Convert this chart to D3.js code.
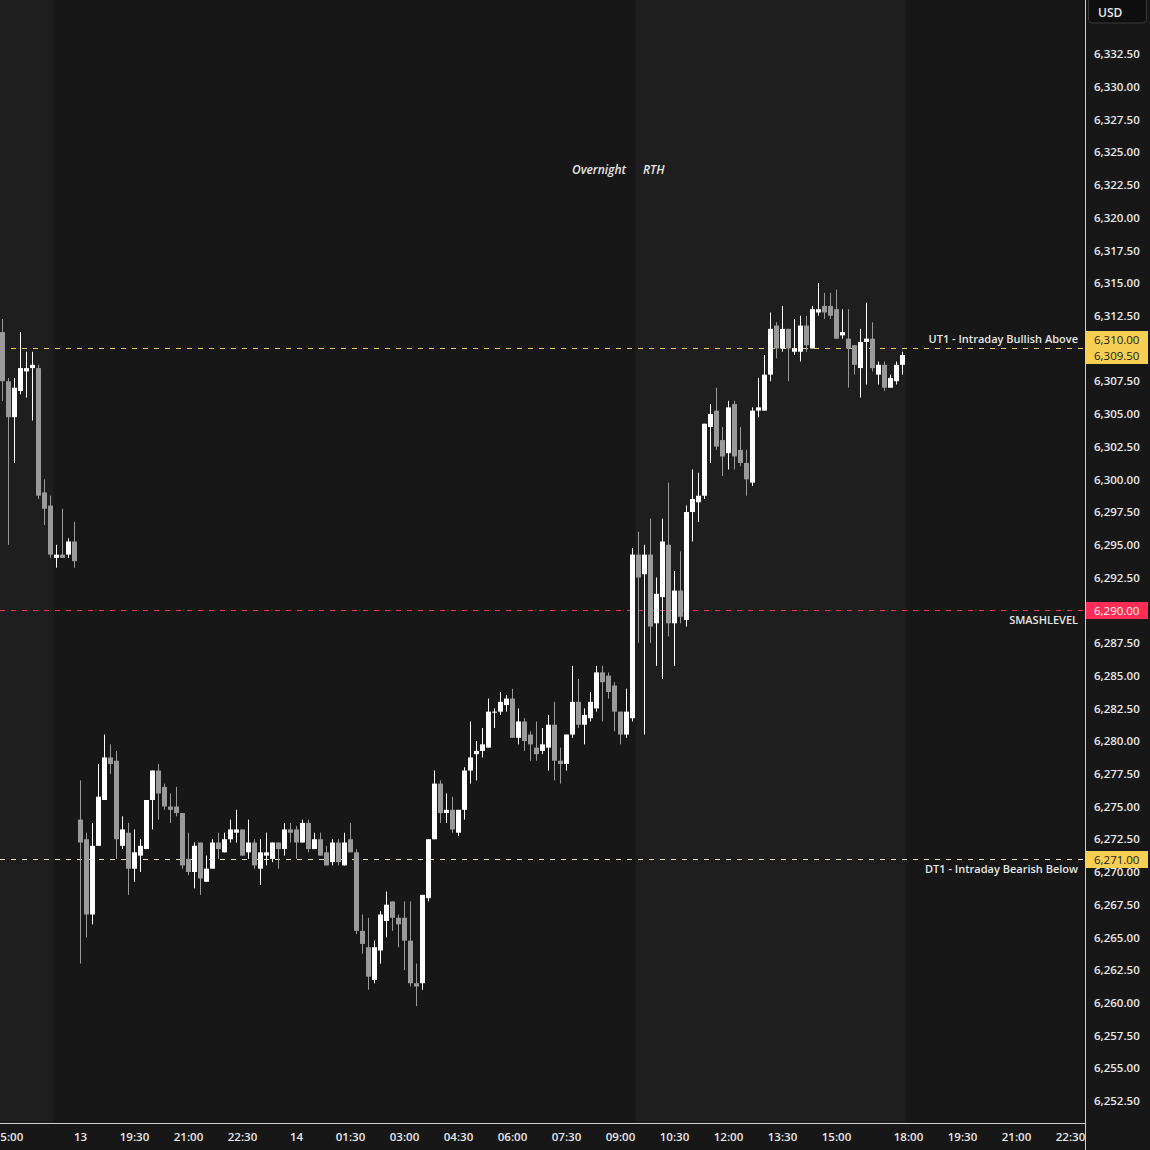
<!DOCTYPE html>
<html>
<head>
<meta charset="utf-8">
<script src="https://cdn.jsdelivr.net/npm/d3@7"></script>
<style>
  html, body { margin: 0; padding: 0; background: #171717; }
  svg { display: block; font-family: "Open Sans", sans-serif; }
</style>
</head>
<body>
<div id="chart"></div>
<script>
// 10 minute ES bars, index 0 = 14:50 of the previous session
var opens = [6311.25,6307.5,6304.75,6306.75,6308.25,6308.5,6308.5,6299,6298,6294,6294.25,6294.25,6295.25,
  6274,6272.5,6266.75,6272,6275.5,6278.75,6278.5,6272,6273,6270.25,6271.25,6271.75,6275.5,6277.75,6276.5,6275,6275,
  6274.5,6271,6270,6272.25,6269.25,6270.25,6272.25,6271.5,6272.5,6273,6273.25,6271.5,6272.25,6270.25,6271.25,6271,
  6272.25,6271.75,6273.25,6273.25,6272.25,6273.75,6271.75,6272.5,6271.5,6270.75,6272.25,6270.5,6272.5,6271.5,6265.5,
  6264.25,6261.75,6264,6266.25,6267.75,6266.5,6266.5,6264.75,6261.5,6261.5,6268,6272.5,6276.75,6274.5,6274.75,6273,
  6274.75,6277.75,6279,6279.25,6279.5,6282.25,6282.25,6282.75,6283.25,6280.25,6281.5,6280.5,6279.5,6279.25,6279.5,
  6281.25,6278.5,6278.25,6280.5,6283,6281.25,6281.75,6282.5,6285.25,6285,6284.25,6282.25,6280.5,6281.75,6294.25,
  6292.75,6294.25,6289,6291,6295,6289,6291.5,6289.25,6297.5,6298.25,6298.75,6304,6305.25,6303,6302,6305.75,6302.25,
  6301.25,6299.75,6305.25,6305.25,6308,6311.75,6310,6311.5,6309.75,6309.75,6311.75,6310,6312.75,6313.25,6313.25,
  6313,6311,6310.75,6310.25,6308.5,6310.5,6310.75,6308,6308.75,6307,6307.5,6308.75];
var highs = [6312.25,6307.75,6307.75,6311.25,6309.75,6309.75,6308.75,6300,6298.75,6295,6297.75,6295.5,6296.75,
  6277,6273,6273.75,6278.25,6280.5,6279.75,6279.25,6274.25,6273.75,6273.25,6272.5,6275.5,6277.75,6278.25,6276.75,6276,6276.5,
  6274.5,6273,6272.25,6272.25,6271.25,6272.5,6273,6273,6274,6274.75,6273.25,6274,6272.5,6272.5,6273,6272.25,
  6272.25,6273.75,6273.75,6273.5,6274,6274,6273,6273,6272,6272.5,6272.5,6273,6273.75,6271.75,6266.75,
  6266.5,6264.75,6267,6268.5,6267.75,6266.75,6267.75,6267.75,6263,6268.25,6272.5,6277.75,6277,6276,6275.75,6274.75,
  6278,6281.5,6280,6281,6283.25,6282.5,6283.75,6283.5,6284,6282.5,6281.75,6280.75,6281.5,6281,6282,
  6283,6279.5,6280.5,6285.75,6284.75,6282.5,6283.75,6285.75,6285.75,6285.25,6284.5,6282.25,6284,6294.75,6296,
  6295,6297,6292.5,6297,6299.75,6293,6294.5,6298,6300.75,6300.5,6304.25,6305.75,6307,6304,6306,6306,6304,
  6302.25,6305.5,6307.75,6309.5,6312.75,6312,6313.25,6311.5,6312.25,6312.5,6312.5,6313.25,6315,6314.25,6314.25,
  6314.5,6313,6313,6310.25,6311.5,6313.5,6312,6309,6309,6308,6309,6309.75];
var lows = [6306,6295,6301.25,6306.5,6306.25,6304.5,6298.5,6296.5,6294,6293.25,6294,6294,6293.25,
  6263,6265,6266,6272,6275.5,6277.5,6271,6271.75,6268.25,6269.25,6270,6271.75,6273.25,6274,6274.75,6273.75,6274.25,
  6270.25,6269.75,6268.75,6268.25,6269.25,6270.25,6271,6271.5,6272.25,6272.25,6271.25,6271,6270.25,6269,6270.5,6270.75,
  6270.25,6271.25,6272.25,6271,6272.25,6271.5,6271.75,6271.25,6270.5,6270.5,6270.5,6270.5,6271.5,6265.25,6263.75,
  6261,6261.5,6263,6265,6265.5,6264.25,6262.5,6261.25,6259.75,6261,6267.75,6272.5,6273.75,6273.75,6273,6272.75,
  6274,6276.75,6277,6278.75,6279.5,6281,6282,6282.25,6280.25,6279.75,6279.25,6278.5,6278.5,6279,6277.75,
  6277,6276.75,6277.75,6280.25,6281,6279.75,6281.5,6282.25,6281.5,6283.25,6280.75,6279.75,6280.25,6281.5,6287.5,
  6280.5,6287.5,6285.75,6284.75,6288,6285.75,6289,6288.75,6295.25,6296.75,6298.5,6301.25,6302.25,6300.25,6300.75,6300.75,6301,
  6298.75,6299.5,6304.75,6305.25,6307.5,6309.25,6309.75,6307.5,6309.5,6309,6309.75,6310,6312.5,6312.25,6312.25,
  6310.75,6310.75,6307,6308,6306.25,6307.25,6308.25,6307.25,6306.75,6307,6307.25,6308];
var closes = [6307.5,6304.75,6307,6308.5,6308.5,6308.75,6298.75,6297.75,6294.25,6294.25,6294,6295.25,6293.75,
  6272.25,6266.75,6272,6275.75,6278.75,6278.25,6272.5,6273.25,6270.25,6271.5,6272,6275.5,6277.75,6276,6275,6274.75,6274.5,
  6270.5,6270,6272,6269.5,6270.25,6272.25,6271.75,6272.5,6273.25,6273.25,6271.25,6272.25,6270.5,6271.5,6271.5,6272.25,
  6271.75,6273.25,6273,6272.25,6273.75,6271.75,6272.5,6271.25,6270.5,6272.25,6270.75,6272.25,6271.5,6265.5,6264.5,
  6262,6264.25,6266.75,6267.5,6266.5,6266,6264.75,6261.5,6261.25,6268.25,6272.5,6276.75,6274.5,6274.75,6273.25,6274.75,
  6277.75,6278.75,6279.25,6279.75,6282.25,6282.25,6283,6283.25,6280.25,6281.5,6280,6279.75,6279,6279.75,6281.25,
  6278.5,6278.25,6280.5,6283,6281.25,6282,6283,6285.25,6284.5,6283.75,6282.25,6280.5,6282.25,6294.25,6292.5,
  6294.25,6288.75,6291.25,6295.25,6289,6291.5,6289.5,6297.5,6298.5,6298.75,6304.25,6305,6302.5,6301.75,6305.5,6301.75,6301.25,
  6300,6305.25,6305.5,6308,6311.5,6310,6311.5,6310,6310,6311.75,6310.25,6313,6313,6312.75,6312.5,
  6310.75,6311.25,6310,6308.75,6310.5,6310.75,6308.5,6308.75,6307,6307.75,6308.75,6309.5];

// time axis labels (bar index -> text)
var timeTickIdx = [1,13,22,31,40,49,58,67,76,85,94,103,112,121,130,139,151,160,169,178];
var timeTickText = ["15:00","13","19:30","21:00","22:30","14","01:30","03:00","04:30","06:00","07:30","09:00",
  "10:30","12:00","13:30","15:00","18:00","19:30","21:00","22:30"];

// shaded sessions (bar index ranges)
var sessionStart = [-2, 105.5];
var sessionEnd = [8.5, 150.5];

// price levels
var levelPrice = [6310, 6290, 6271];
var levelName = ["UT1 - Intraday Bullish Above", "SMASHLEVEL", "DT1 - Intraday Bearish Below"];
var lastPrice = 6309.5;

var W = 1150, H = 1150,
    plotR = 1085, plotB = 1123;

var svg = d3.select("#chart").append("svg")
  .attr("width", W)
  .attr("height", H);

svg.append("rect").attr("width", W).attr("height", H).attr("fill", "#171717");

var x = d3.scaleLinear().domain([0, 180]).range([2.5, 1082.5]);
var y = d3.scaleLinear().domain([6252.5, 6332.5]).range([1101, 54]);

svg.append("defs").append("clipPath").attr("id", "plot")
  .append("rect").attr("width", plotR).attr("height", plotB);

var plot = svg.append("g").attr("clip-path", "url(#plot)");

// session backgrounds
plot.selectAll("rect.sess")
  .data(sessionStart)
  .enter().append("rect")
    .attr("class", "sess")
    .attr("x", function(d) { return x(d); })
    .attr("width", function(d, i) { return x(sessionEnd[i]) - x(d); })
    .attr("y", 0)
    .attr("height", plotB)
    .attr("fill", "#1e1e1e");

// session names
plot.append("text").attr("x", 626).attr("y", 174).attr("text-anchor", "end")
  .attr("font-style", "italic").attr("font-weight", 600).attr("font-size", 12)
  .attr("fill", "#e6e6e6").text("Overnight");
plot.append("text").attr("x", 643).attr("y", 174)
  .attr("font-style", "italic").attr("font-weight", 600).attr("font-size", 12)
  .attr("fill", "#e6e6e6").text("RTH");

// level lines
var lineColor = ["#f2c94c", "#ff2d55", "#e8e0c0"];
plot.selectAll("line.level")
  .data(levelPrice)
  .enter().append("line")
    .attr("x1", 0).attr("x2", plotR)
    .attr("y1", function(d) { return Math.round(y(d)) + 0.5; })
    .attr("y2", function(d) { return Math.round(y(d)) + 0.5; })
    .attr("stroke", function(d, i) { return lineColor[i]; })
    .attr("stroke-width", 1)
    .attr("stroke-dasharray", "5,6");

var labelDy = [-9, 10, 10];
plot.selectAll("text.level")
  .data(levelPrice)
  .enter().append("text")
    .attr("x", 1078)
    .attr("y", function(d, i) { return y(d) + labelDy[i]; })
    .attr("dy", "0.35em")
    .attr("text-anchor", "end")
    .attr("font-size", 11)
    .attr("font-weight", 600)
    .attr("fill", "#e6e6e6")
    .text(function(d, i) { return levelName[i]; });

// candles
var idx = d3.range(opens.length);
var col = function(i) { return closes[i] >= opens[i] ? "#ffffff" : "#9a9a9a"; };

plot.selectAll("rect.wick")
  .data(idx)
  .enter().append("rect")
    .attr("x", function(i) { return x(i) - 0.5; })
    .attr("width", 1)
    .attr("y", function(i) { return y(highs[i]); })
    .attr("height", function(i) { return y(lows[i]) - y(highs[i]); })
    .attr("fill", col);

plot.selectAll("rect.body")
  .data(idx)
  .enter().append("rect")
    .attr("x", function(i) { return x(i) - 2.5; })
    .attr("width", 5)
    .attr("y", function(i) { return y(Math.max(opens[i], closes[i])); })
    .attr("height", function(i) { return Math.max(1, Math.abs(y(opens[i]) - y(closes[i]))); })
    .attr("fill", col);

// axes frame
svg.append("line").attr("x1", plotR + 0.5).attr("x2", plotR + 0.5).attr("y1", 0).attr("y2", H)
  .attr("stroke", "#d0d0d0");
svg.append("line").attr("x1", 0).attr("x2", plotR).attr("y1", plotB + 0.5).attr("y2", plotB + 0.5)
  .attr("stroke", "#d0d0d0");

// price axis - ticks hidden under the level/last price labels are skipped
var fmt = d3.format(",.2f");
var yAxis = d3.axisRight(y)
  .tickValues(d3.range(6252.5, 6333, 2.5).filter(function(v) { return v !== 6310 && v !== 6290; }))
  .tickFormat(fmt)
  .tickSize(0)
  .tickPadding(9);
var ya = svg.append("g").attr("transform", "translate(" + plotR + ",0)").call(yAxis);
ya.select(".domain").remove();
ya.selectAll("text").attr("font-size", 11.5).attr("font-weight", 600)
  .attr("font-family", "Open Sans").attr("fill", "#e8e8e8");

// time axis
svg.selectAll("text.time")
  .data(timeTickIdx)
  .enter().append("text")
    .attr("x", function(d) { return x(d); })
    .attr("y", 1141)
    .attr("text-anchor", "middle")
    .attr("font-size", 11.5)
    .attr("font-weight", 600)
    .attr("fill", "#e8e8e8")
    .text(function(d, i) { return timeTickText[i]; });

// currency box
svg.append("rect").attr("x", 1088.5).attr("y", -4).attr("width", 58).attr("height", 27).attr("rx", 4)
  .attr("fill", "#0f0f0f").attr("stroke", "#3a3a3a");
svg.append("text").attr("x", 1098).attr("y", 17).attr("font-size", 12).attr("font-weight", 600)
  .attr("fill", "#e8e8e8").text("USD");

// price labels on the axis (upper level label sits above the line, last price below it)
var boxes = [
  {p: 6310, off: -9.5, bg: "#f7cf52", fg: "#1a1a1a"},
  {p: lastPrice, off: 6.5 - (y(lastPrice) - y(6310)), bg: "#f7cf52", fg: "#1a1a1a"},
  {p: 6290, off: 0, bg: "#ff2d55", fg: "#ffffff"},
  {p: 6271, off: 0, bg: "#f7cf52", fg: "#1a1a1a"}
];
var bx = svg.selectAll("g.box").data(boxes).enter().append("g")
  .attr("transform", function(d) {
    return "translate(" + (plotR + 1) + "," + Math.round(y(d.p) + d.off - 8) + ")";
  });
bx.append("rect").attr("width", 62).attr("height", 17).attr("fill", function(d) { return d.bg; });
bx.append("text").attr("x", 8).attr("y", 8.5).attr("dy", "0.35em").attr("font-size", 11.5)
  .attr("fill", function(d) { return d.fg; }).text(function(d) { return fmt(d.p); });
</script>
</body>
</html>
